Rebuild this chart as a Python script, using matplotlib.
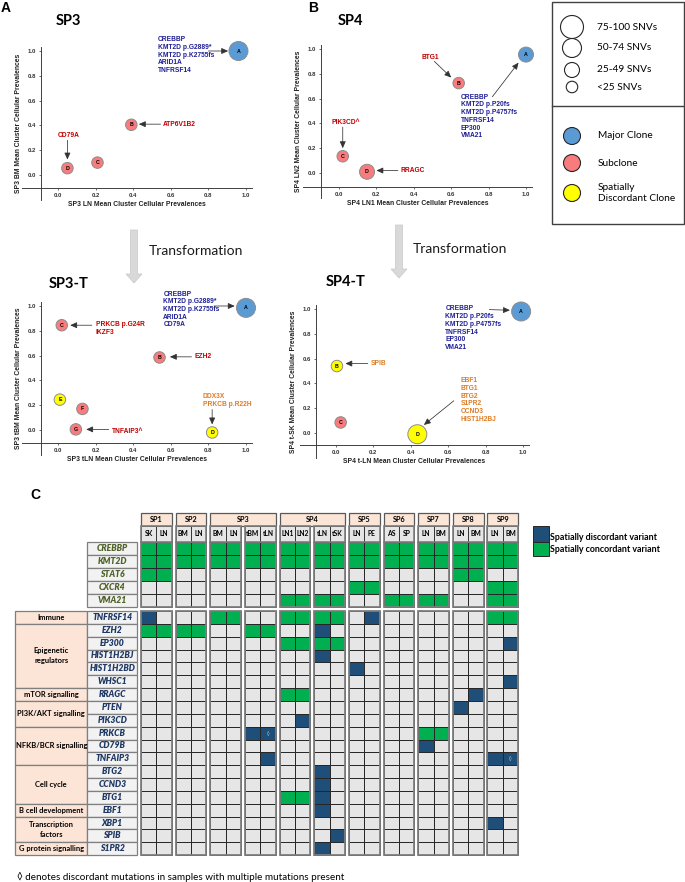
import matplotlib
matplotlib.use('Agg')
import matplotlib.pyplot as plt
from matplotlib.patches import Rectangle, Circle, FancyArrow
import numpy as np

plt.rcParams['font.family'] = ['Liberation Sans', 'DejaVu Sans']
CAL = ['Lato', 'DejaVu Sans']

# ---------------- data: clonal scatter panels ----------------
sp3_names = ['A', 'B', 'C', 'D']
sp3_ln = [0.96, 0.39, 0.21, 0.05]
sp3_bm = [1.00, 0.405, 0.10, 0.055]
sp3_kind = ['major', 'sub', 'sub', 'sub']
sp3_snv = ['50-74', '<25', '<25', '<25']

sp4_names = ['A', 'B', 'C', 'D']
sp4_ln1 = [1.00, 0.64, 0.02, 0.15]
sp4_ln2 = [0.955, 0.725, 0.135, 0.01]
sp4_kind = ['major', 'sub', 'sub', 'sub']
sp4_snv = ['25-49', '<25', '<25', '25-49']

sp3t_names = ['A', 'B', 'C', 'D', 'E', 'F', 'G']
sp3t_tln = [1.00, 0.54, 0.02, 0.82, 0.01, 0.13, 0.095]
sp3t_tbm = [0.985, 0.585, 0.845, -0.02, 0.245, 0.17, 0.005]
sp3t_kind = ['major', 'sub', 'sub', 'disc', 'disc', 'sub', 'sub']
sp3t_snv = ['50-74', '<25', '<25', '<25', '<25', '<25', '<25']

sp4t_names = ['A', 'B', 'C', 'D']
sp4t_tln = [0.99, 0.005, 0.025, 0.435]
sp4t_tsk = [0.98, 0.54, 0.085, -0.01]
sp4t_kind = ['major', 'disc', 'sub', 'disc']
sp4t_snv = ['50-74', '<25', '<25', '50-74']

size_cats = ['75-100', '50-74', '25-49', '<25']
kind_labels = ['Major Clone', 'Subclone', 'Spatially\nDiscordant Clone']

# ---------------- data: variant grid ----------------
patients = ['SP1', 'SP2', 'SP3', 'SP4', 'SP5', 'SP6', 'SP7', 'SP8', 'SP9']
samples = [['SK', 'LN'], ['BM', 'LN'], ['BM', 'LN', 'tBM', 'tLN'], ['LN1', 'LN2', 'tLN', 'tSK'],
           ['LN', 'PE'], ['AS', 'SP'], ['LN', 'BM'], ['LN', 'BM'], ['LN', 'BM']]

top_genes = ['CREBBP', 'KMT2D', 'STAT6', 'CXCR4', 'VMA21']
top_status = [
    'gg gg gggg gggg gg gg gg gg gg',
    'gg gg gggg gggg gg gg gg gg gg',
    'gg .. .... .... .. .. .. gg ..',
    '.. .. .... .... gg .. .. .. gg',
    '.. .. .... gggg .. gg gg .. gg',
]
pathways = ['Immune', 'Epigenetic\nregulators', 'mTOR signalling', 'PI3K/AKT signalling',
            'NFKB/BCR signalling', 'Cell cycle', 'B cell development',
            'Transcription\nfactors', 'G protein signalling']
pathway_genes = [['TNFRSF14'], ['EZH2', 'EP300', 'HIST1H2BJ', 'HIST1H2BD', 'WHSC1'], ['RRAGC'],
                 ['PTEN', 'PIK3CD'], ['PRKCB', 'CD79B', 'TNFAIP3'], ['BTG2', 'CCND3', 'BTG1'],
                 ['EBF1'], ['XBP1', 'SPIB'], ['S1PR2']]
# g = concordant, b = discordant, d = discordant with multiple mutations
bottom_status = [
    'b. .. gg.. gggg .b .. .. .. gg',  # TNFRSF14
    'gg gg ..gg ..b. .. .. .. .. ..',  # EZH2
    '.. .. .... gggg .. .. .. .. .b',  # EP300
    '.. .. .... ..b. .. .. .. .. ..',  # HIST1H2BJ
    '.. .. .... .... b. .. .. .. ..',  # HIST1H2BD
    '.. .. .... .... .. .. .. .. .b',  # WHSC1
    '.. .. .... gg.. .. .. .. .b ..',  # RRAGC
    '.. .. .... .... .. .. .. b. ..',  # PTEN
    '.. .. .... .b.. .. .. .. .. ..',  # PIK3CD
    '.. .. ..bd .... .. .. gg .. ..',  # PRKCB
    '.. .. .... .... .. .. b. .. ..',  # CD79B
    '.. .. ...b .... .. .. .. .. bd',  # TNFAIP3
    '.. .. .... ..b. .. .. .. .. ..',  # BTG2
    '.. .. .... ..b. .. .. .. .. ..',  # CCND3
    '.. .. .... ggb. .. .. .. .. ..',  # BTG1
    '.. .. .... ..b. .. .. .. .. ..',  # EBF1
    '.. .. .... .... .. .. .. .. b.',  # XBP1
    '.. .. .... ...b .. .. .. .. ..',  # SPIB
    '.. .. .... ..b. .. .. .. .. ..',  # S1PR2
]

# ---------------- styles ----------------
W, H, DPI = 685, 882, 100
KIND_COL = {'major': '#5B9BD5', 'sub': '#F87C7E', 'disc': '#FFFF00'}
SIZE_PX = {'75-100': 23, '50-74': 19, '25-49': 15, '<25': 11.5}
CELL_COL = {'.': '#E7E6E6', 'g': '#00B050', 'b': '#1F4E79', 'd': '#1F4E79'}
NAVY = '#1F1F96'
RED = '#C00000'
ORANGE = '#DE7B22'

fig = plt.figure(figsize=(W / DPI, H / DPI), dpi=DPI)
canvas = fig.add_axes([0, 0, 1, 1])
canvas.set_xlim(0, W)
canvas.set_ylim(H, 0)
canvas.axis('off')


def px2pt(d):
    return (d * 72.0 / DPI) ** 2


def scatter_panel(geom, xv, yv, names, kinds, snv, xlabel, ylabel):
    x0, x1, y0, y1, lsp, bsp = geom
    sx, sy = x1 - x0, y0 - y1
    xlim, ylim = (-0.19, 1.03), (-0.2, 1.03)
    left, right = x0 + xlim[0] * sx, x0 + xlim[1] * sx
    bot, top = y0 - ylim[0] * sy, y0 - ylim[1] * sy
    ax = fig.add_axes([left / W, 1 - bot / H, (right - left) / W, (bot - top) / H])
    ax.set_xlim(xlim)
    ax.set_ylim(ylim)
    ax.patch.set_alpha(0)
    for s in ['top', 'right']:
        ax.spines[s].set_visible(False)
    ax.spines['left'].set_position(('data', lsp))
    ax.spines['bottom'].set_position(('data', bsp))
    for s in ['left', 'bottom']:
        ax.spines[s].set_color('#404040')
        ax.spines[s].set_linewidth(0.7)
    ax.scatter(xv, yv, s=[px2pt(SIZE_PX[c]) for c in snv], c=[KIND_COL[k] for k in kinds],
               edgecolors='#8C8C8C', linewidths=0.7, zorder=3, clip_on=False)
    for n, x, y in zip(names, xv, yv):
        ax.text(x, y, n, ha='center', va='center', fontsize=3.8, fontweight='bold', zorder=4)
    ticks = np.arange(0, 1.01, 0.2)
    ax.set_xticks(ticks)
    ax.set_yticks(ticks)
    ax.xaxis.set_major_formatter('{x:.1f}')
    ax.yaxis.set_major_formatter('{x:.1f}')
    ax.tick_params(labelsize=4.3, length=1.5, width=0.5, pad=2, colors='#333333')
    for lab in ax.get_xticklabels() + ax.get_yticklabels():
        lab.set_fontweight('bold')
    ax.set_xlabel(xlabel, fontsize=4.9, fontweight='bold', labelpad=2, color='#222222')
    ax.set_ylabel(ylabel, fontsize=4.9, fontweight='bold', labelpad=4, color='#222222')
    return ax


def label(ax, x, y, lines, color, va='top', ha='left'):
    ax.text(x, y, '\n'.join(lines), ha=ha, va=va, fontsize=4.8, fontweight='bold',
            color=color, linespacing=1.15, clip_on=False)


def arrow(ax, start, end):
    ax.annotate('', xy=end, xytext=start,
                arrowprops=dict(arrowstyle='-|>,head_length=0.4,head_width=0.18',
                                color='#333333', lw=0.55, shrinkA=0, shrinkB=0))


# ---- panel A : SP3 ----
axA = scatter_panel((58, 246, 175, 51, -0.09, -0.105), sp3_ln, sp3_bm, sp3_names, sp3_kind, sp3_snv,
                    'SP3 LN Mean Cluster Cellular Prevalences', 'SP3 BM Mean Cluster Cellular Prevalences')
label(axA, 0.53, 1.12, ['CREBBP', 'KMT2D p.G2889*', 'KMT2D p.K2755fs', 'ARID1A', 'TNFRSF14'], NAVY)
arrow(axA, (0.80, 1.0), (0.905, 1.0))
label(axA, 0.56, 0.41, ['ATP6V1B2'], RED, va='center')
arrow(axA, (0.545, 0.41), (0.43, 0.41))
label(axA, 0.055, 0.32, ['CD79A'], RED, va='center', ha='center')
arrow(axA, (0.05, 0.28), (0.05, 0.125))

# ---- panel B : SP4 ----
axB = scatter_panel((339, 526, 173, 49, -0.096, -0.113), sp4_ln1, sp4_ln2, sp4_names, sp4_kind, sp4_snv,
                    'SP4 LN1 Mean Cluster Cellular Prevalences', 'SP4 LN2 Mean Cluster Cellular Prevalences')
label(axB, 0.49, 0.935, ['BTG1'], RED, va='center', ha='center')
arrow(axB, (0.51, 0.90), (0.60, 0.77))
label(axB, 0.65, 0.64, ['CREBBP', 'KMT2D p.P20fs', 'KMT2D p.P4757fs', 'TNFRSF14', 'EP300', 'VMA21'], NAVY)
arrow(axB, (0.82, 0.615), (0.96, 0.89))
label(axB, 0.035, 0.41, ['PIK3CD^'], RED, va='center', ha='center')
arrow(axB, (0.02, 0.37), (0.02, 0.20))
label(axB, 0.33, 0.02, ['RRAGC'], RED, va='center')
arrow(axB, (0.315, 0.02), (0.20, 0.02))

# ---- SP3-T ----
axC = scatter_panel((58, 246, 430, 306, -0.09, -0.105), sp3t_tln, sp3t_tbm, sp3t_names, sp3t_kind, sp3t_snv,
                    'SP3 tLN Mean Cluster Cellular Prevalences', 'SP3 tBM Mean Cluster Cellular Prevalences')
label(axC, 0.56, 1.125, ['CREBBP', 'KMT2D p.G2889*', 'KMT2D p.K2755fs', 'ARID1A', 'CD79A'], NAVY)
arrow(axC, (0.83, 1.0), (0.94, 1.0))
label(axC, 0.20, 0.875, ['PRKCB p.G24R', 'IKZF3'], RED)
arrow(axC, (0.18, 0.845), (0.065, 0.845))
label(axC, 0.725, 0.59, ['EZH2'], RED, va='center')
arrow(axC, (0.71, 0.59), (0.595, 0.59))
label(axC, 0.77, 0.30, ['DDX3X', 'PRKCB p.R22H'], ORANGE)
arrow(axC, (0.82, 0.165), (0.82, 0.045))
label(axC, 0.285, -0.015, ['TNFAIP3^'], RED, va='center')
arrow(axC, (0.27, 0.005), (0.15, 0.005))

# ---- SP4-T ----
axD = scatter_panel((336, 523, 433, 309, -0.107, -0.097), sp4t_tln, sp4t_tsk, sp4t_names, sp4t_kind, sp4t_snv,
                    'SP4 t-LN Mean Cluster Cellular Prevalences', 'SP4 t-SK Mean Cluster Cellular Prevalences')
label(axD, 0.585, 1.03, ['CREBBP', 'KMT2D p.P20fs', 'KMT2D p.P4757fs', 'TNFRSF14', 'EP300', 'VMA21'], NAVY)
arrow(axD, (0.82, 0.995), (0.93, 0.99))
label(axD, 0.185, 0.56, ['SPIB'], ORANGE, va='center')
arrow(axD, (0.17, 0.56), (0.05, 0.56))
label(axD, 0.665, 0.45, ['EBF1', 'BTG1', 'BTG2', 'S1PR2', 'CCND3', 'HIST1H2BJ'], ORANGE)
arrow(axD, (0.63, 0.26), (0.47, 0.065))

# ---- panel titles ----
canvas.text(1, 8, 'A', fontsize=10, fontweight='bold', va='center')
canvas.text(308, 8, 'B', fontsize=10, fontweight='bold', va='center')
canvas.text(30, 495, 'C', fontsize=10, fontweight='bold', va='center')
for x, y, t in [(56, 21, 'SP3'), (338, 21, 'SP4'), (49, 284, 'SP3-T'), (326, 282, 'SP4-T')]:
    canvas.text(x, y, t, fontsize=10.5, fontweight='bold', va='center', family=CAL)

# ---- transformation arrows ----
for ax_x, y0, y1, tx, ty in [(134, 230, 283, 149, 251), (399, 225, 278, 413, 249)]:
    canvas.add_patch(FancyArrow(ax_x, y0, 0, y1 - y0, width=7, head_width=16, head_length=9,
                                length_includes_head=True, fc='#D9D9D9', ec='#C8C8C8', lw=0.5))
    canvas.text(tx, ty, 'Transformation', fontsize=10, va='center', family=CAL, color='#1a1a1a')

# ---- clone legend box ----
canvas.add_patch(Rectangle((552, 1.5), 132, 222.5, fill=False, ec='#404040', lw=1.0))
canvas.plot([552, 684], [106, 106], color='#404040', lw=1.0)
for i, cat in enumerate(size_cats):
    cy = [27, 48, 70, 87][i]
    canvas.add_patch(Circle((572, cy), SIZE_PX[cat] / 2, fc='white', ec='#262626', lw=0.8))
    canvas.text(597, cy, cat + ' SNVs', fontsize=7.3, va='center', family=CAL)
for i, (k, lab) in enumerate(zip(['major', 'sub', 'disc'], kind_labels)):
    cy = [136, 163, 193][i]
    canvas.add_patch(Circle((572, cy), 8.5, fc=KIND_COL[k], ec='#262626', lw=0.8))
    canvas.text(598, cy, lab, fontsize=7.3, va='center', family=CAL, linespacing=1.35)

# ---------------- variant grid ----------------
X0, PITCH, CW, RH = 141, 34.65, 15.35, 12.85
TOP0, BOT0 = 542.3, 611
col_x = []
for smp in samples:
    for j in range(len(smp)):
        col_x.append(X0 + (len(col_x) // 2) * PITCH + (len(col_x) % 2) * CW)
n_pairs = len(col_x) // 2


def draw_rows(status, y_start):
    for r, row in enumerate(status):
        row = row.replace(' ', '')
        y = y_start + r * RH
        for c, v in enumerate(row):
            canvas.add_patch(Rectangle((col_x[c], y), CW, RH, fc=CELL_COL[v], ec='#262626', lw=0.7))
            if v == 'd':
                canvas.text(col_x[c] + CW / 2, y + RH / 2, '\u25CA', color='white', fontsize=3.6,
                            ha='center', va='center', family=['DejaVu Sans'])
    for p in range(n_pairs):
        canvas.add_patch(Rectangle((col_x[2 * p], y_start), 2 * CW, len(status) * RH,
                                   fill=False, ec='#7F7F7F', lw=1.3))


draw_rows(top_status, TOP0)
draw_rows(bottom_status, BOT0)

# headers
ci = 0
for pat, smp in zip(patients, samples):
    xa = col_x[ci]
    xb = col_x[ci + len(smp) - 1] + CW
    canvas.add_patch(Rectangle((xa, 513.3), xb - xa, 12.4, fc='#FBE5D6', ec='#595959', lw=0.9))
    canvas.text((xa + xb) / 2, 519.5, pat, fontsize=5.2, fontweight='bold', ha='center', va='center', family=CAL)
    for j, s in enumerate(smp):
        x = col_x[ci + j]
        canvas.add_patch(Rectangle((x, 525.7), CW, 16.6, fc='#E7E6E6', ec='#262626', lw=0.6))
        canvas.text(x + CW / 2, 534, s, fontsize=4.9, fontweight='bold', ha='center', va='center', family=CAL)
    for j in range(0, len(smp), 2):
        canvas.add_patch(Rectangle((col_x[ci + j], 525.7), 2 * CW, 16.6, fill=False, ec='#7F7F7F', lw=1.2))
    ci += len(smp)

# gene labels
for r, g in enumerate(top_genes):
    y = TOP0 + r * RH
    canvas.add_patch(Rectangle((87.3, y), 50, RH, fc='#F2F2F2', ec='#7F7F7F', lw=0.9))
    canvas.text(112.3, y + RH / 2, g, fontsize=6.2, fontweight='heavy', style='italic', color='#4F6228',
                ha='center', va='center', family=CAL)
r = 0
for pw, genes in zip(pathways, pathway_genes):
    y_s = BOT0 + r * RH
    canvas.add_patch(Rectangle((15.3, y_s), 72, len(genes) * RH, fc='#FCE4D6', ec='#7F7F7F', lw=0.9))
    canvas.text(51.3, y_s + len(genes) * RH / 2, pw, fontsize=5.4, fontweight='bold', ha='center',
                va='center', family=CAL, linespacing=1.5)
    for g in genes:
        y = BOT0 + r * RH
        canvas.add_patch(Rectangle((87.3, y), 50, RH, fc='#F2F2F2', ec='#7F7F7F', lw=0.9))
        canvas.text(112.3, y + RH / 2, g, fontsize=6.2, fontweight='heavy', style='italic', color='#1F3864',
                    ha='center', va='center', family=CAL)
        r += 1

# grid legend
canvas.add_patch(Rectangle((533.3, 526), 15.7, 16, fc='#1F4E79', ec='#262626', lw=0.7))
canvas.add_patch(Rectangle((533.3, 542), 15.7, 13.5, fc='#00B050', ec='#262626', lw=0.7))
canvas.text(550.5, 537, 'Spatially discordant variant', fontsize=6.4, fontweight='bold', va='center', family=CAL)
canvas.text(550.5, 550, 'Spatially concordant variant', fontsize=6.4, fontweight='bold', va='center', family=CAL)

canvas.text(17, 876.5, '\u25CA denotes discordant mutations in samples with multiple mutations present',
            fontsize=7.1, va='center', family=CAL)

fig.savefig('out.png', dpi=DPI)
